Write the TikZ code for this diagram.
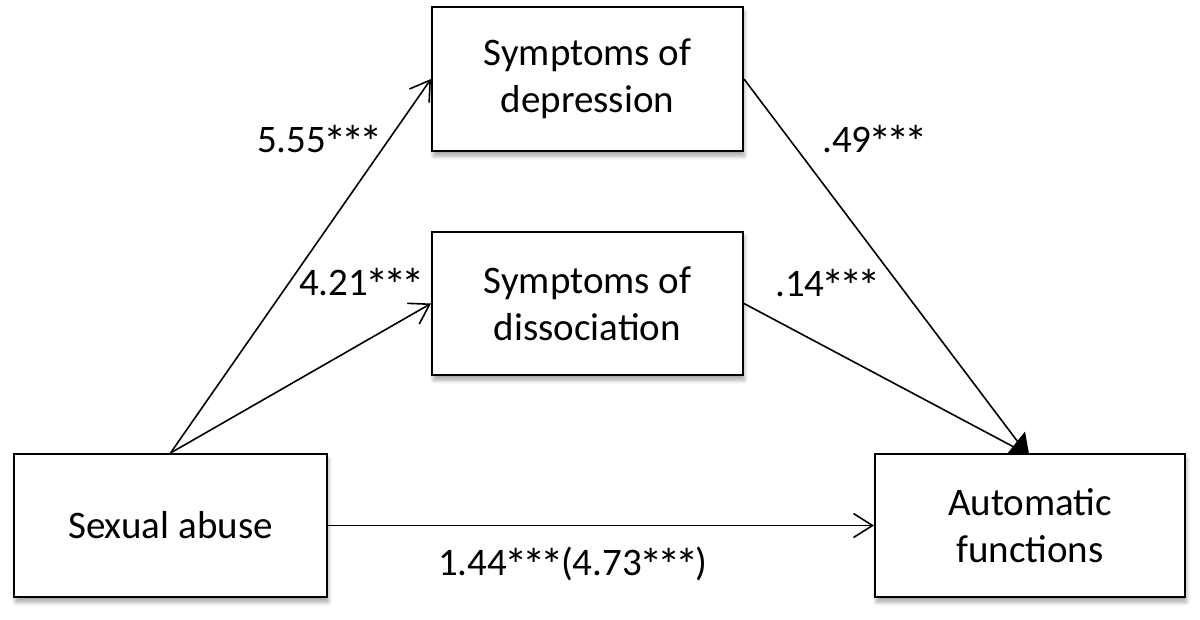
\documentclass[tikz,border=0pt]{standalone}
\usepackage{fontspec}
\usepackage{graphicx}
\setmainfont{Carlito}
\usetikzlibrary{arrows.meta,shadows.blur}
\newcommand{\mystar}{\makebox[0.46em]{\raisebox{-0.16em}{\scalebox{1.2}{*}}}}
\newcommand{\sig}{\mystar\mystar\mystar}
\begin{document}
\begin{tikzpicture}[x=1pt,y=-1pt,
  box/.style={draw=black, line width=2pt, fill=white, inner sep=0pt, align=center,
    font=\fontsize{39}{47}\selectfont,
    blur shadow={shadow xshift=1.5pt, shadow yshift=-5pt, shadow blur radius=4pt, shadow opacity=35}},
  lab/.style={anchor=base west, inner sep=0pt, font=\fontsize{39}{47}\selectfont},
  conn/.style={line width=1.6pt},
  openarr/.style={conn, -{Straight Barb[length=19pt, width=24pt, line width=1.6pt]}}]
\useasboundingbox (0,0) rectangle (1200,619);
\node[box, minimum width=311pt, minimum height=144pt] (dep) at (587.5,79) {Symptoms of\\depression};
\node[box, minimum width=311pt, minimum height=143pt] (dis) at (587.5,303.5) {Symptoms of\\dissociation};
\node[box, minimum width=313pt, minimum height=143pt] (sa) at (170.5,525.5) {Sexual abuse};
\node[box, minimum width=310pt, minimum height=143pt] (af) at (1030,525.5) {Automatic\\functions};
\coordinate (m) at (1027,454);
% connectors
\draw[openarr] (sa.north) -- (dep.west);
\draw[openarr] (sa.north) -- (dis.west);
\draw[openarr] (sa.east) -- (af.west);
\draw[conn] (dep.east) -- (m);
\draw[conn] (dis.east) -- (m);
\fill[black] (m) ++(-20,0) -- ++(18,-22.5) -- ++(4,22.5) -- cycle;
% labels
\node[lab] (l1) at (257,152) {5.55\sig};
\node[lab] (l2) at (299,295) {4.21\sig};
\node[lab] (l3) at (822,152) {.49\sig};
\node[lab] (l4) at (775,296) {.14\sig};
\node[lab] (l5) at (438,575) {1.44\sig(4.73\sig)};
\end{tikzpicture}
\end{document}
